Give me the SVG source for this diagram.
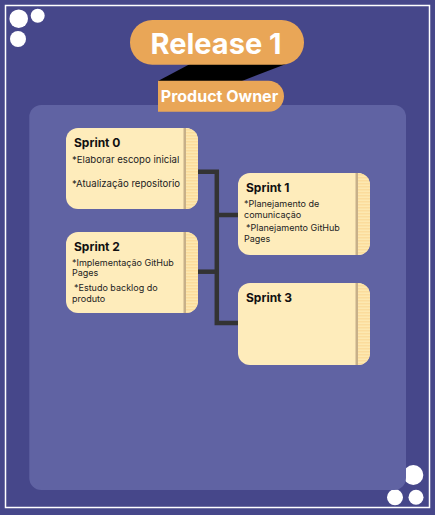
<svg xmlns="http://www.w3.org/2000/svg" width="435" height="515" viewBox="0 0 435 515">
<defs>
<pattern id="stripes" width="4" height="3" patternUnits="userSpaceOnUse">
<rect width="4" height="3" fill="#fde8b0"/>
<rect width="4" height="1.5" fill="#fbdc9c"/>
</pattern>
<clipPath id="c0"><rect x="66" y="128" width="132" height="81" rx="12"/></clipPath>
<clipPath id="c2"><rect x="66" y="232" width="132" height="81" rx="12"/></clipPath>
<clipPath id="c1"><rect x="238" y="173" width="132" height="82" rx="12"/></clipPath>
<clipPath id="c3"><rect x="238" y="283" width="132" height="82" rx="12"/></clipPath>
</defs>
<style>
.card{fill:#feecbb}
.strip{fill:url(#stripes)}
.edge{fill:#c7b089}
.title{font-family:"Inter","Liberation Sans",sans-serif;font-weight:700;font-size:12px;fill:#111}
.body{font-family:"Inter","Liberation Sans",sans-serif;font-size:9px;fill:#222}
.big{font-size:9.6px}
.conn{stroke:#333;stroke-width:4.5;fill:none}
.dot{fill:#fff}
</style>
<rect width="435" height="515" fill="#46478a"/>
<rect x="5.5" y="5.5" width="424" height="502" fill="none" stroke="#fff" stroke-width="1.5"/>
<g id="deco">
<circle class="dot" cx="18.7" cy="18.7" r="9.3"/>
<circle class="dot" cx="37.7" cy="15.7" r="7"/>
<circle class="dot" cx="18" cy="39" r="8"/>
<circle class="dot" cx="413.3" cy="475" r="10"/>
<circle class="dot" cx="395" cy="497.3" r="8"/>
<circle class="dot" cx="416" cy="497.3" r="7.5"/>
</g>
<rect id="panel" x="29.3" y="105" width="376.7" height="385" rx="12" fill="#6063a3"/>
<g id="release">
<polygon points="190,64 286,64 242,81 158,81" fill="#000"/>
<rect x="130" y="20" width="174" height="44.7" rx="22.3" fill="#e9a657"/>
<text x="216" y="53.5" text-anchor="middle" font-family="Inter, 'Liberation Sans', sans-serif" font-weight="700" font-size="29" fill="#fff">Release 1</text>
</g>
<g id="product-owner">
<path d="M158,80.7 H268.5 A15.5,15.5 0 0 1 268.5,111.7 H158 Z" fill="#e9a657"/>
<text x="219.5" y="102" text-anchor="middle" font-family="Inter, 'Liberation Sans', sans-serif" font-weight="700" font-size="16" fill="#fff">Product Owner</text>
</g>
<g id="connectors">
<path class="conn" d="M197,171.7 H216.8 V323 H238"/>
<path class="conn" d="M197,271.7 H216.8"/>
<path class="conn" d="M216.8,215 H238"/>
</g>
<g id="sprint0">
<rect class="card" x="66" y="128" width="132" height="81" rx="12"/>
<g clip-path="url(#c0)"><rect class="strip" x="186" y="128" width="12" height="81"/><rect class="edge" x="183.5" y="128" width="2.5" height="81"/></g>
<text class="title" x="74" y="147">Sprint 0</text>
<text class="body big" x="72" y="162.5">*Elaborar escopo inicial</text>
<text class="body big" x="72" y="187">*Atualização repositorio</text>
</g>
<g id="sprint2">
<rect class="card" x="66" y="232" width="132" height="81" rx="12"/>
<g clip-path="url(#c2)"><rect class="strip" x="186" y="232" width="12" height="81"/><rect class="edge" x="183.5" y="232" width="2.5" height="81"/></g>
<text class="title" x="74" y="251">Sprint 2</text>
<text class="body" x="72" y="265.5">*Implementação GitHub</text>
<text class="body" x="72" y="276">Pages</text>
<text class="body" x="74" y="291">*Estudo backlog do</text>
<text class="body" x="72" y="301.5">produto</text>
</g>
<g id="sprint1">
<rect class="card" x="238" y="173" width="132" height="82" rx="12"/>
<g clip-path="url(#c1)"><rect class="strip" x="358" y="173" width="12" height="82"/><rect class="edge" x="355.5" y="173" width="2.5" height="82"/></g>
<text class="title" x="246" y="192">Sprint 1</text>
<text class="body" x="244" y="207">*Planejamento de</text>
<text class="body" x="244" y="218">comunicação</text>
<text class="body" x="246" y="230.5">*Planejamento GitHub</text>
<text class="body" x="244" y="241.5">Pages</text>
</g>
<g id="sprint3">
<rect class="card" x="238" y="283" width="132" height="82" rx="12"/>
<g clip-path="url(#c3)"><rect class="strip" x="358" y="283" width="12" height="82"/><rect class="edge" x="355.5" y="283" width="2.5" height="82"/></g>
<text class="title" x="246" y="302">Sprint 3</text>
</g>
</svg>
